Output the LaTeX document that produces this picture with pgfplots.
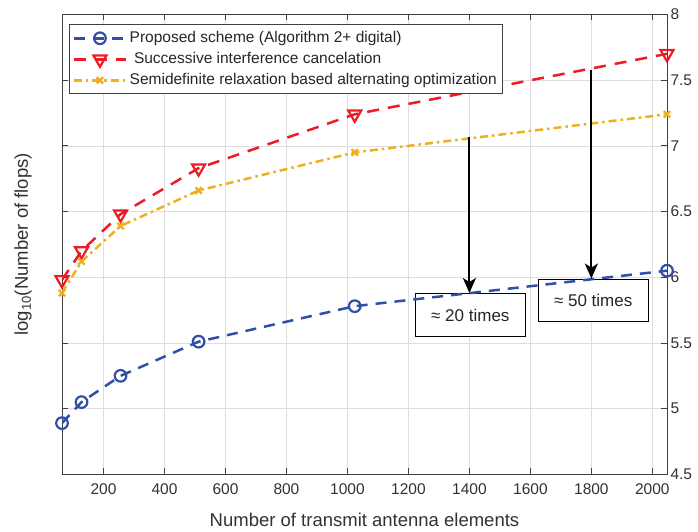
\documentclass[border=0pt]{standalone}
\usepackage{fontspec}
\setmainfont{Liberation Sans}
\usepackage{pgfplots}
\pgfplotsset{compat=1.18}
\usetikzlibrary{arrows.meta}

\definecolor{cblue}{RGB}{49,79,168}
\definecolor{cred}{RGB}{237,28,36}
\definecolor{cyellow}{RGB}{237,177,32}
\definecolor{axisgray}{RGB}{64,64,64}
\definecolor{labelgray}{RGB}{50,50,50}

\begin{document}
\begin{tikzpicture}
\begin{axis}[
  scale only axis,
  width=605pt, height=460pt,
  xmin=64, xmax=2048, ymin=4.5, ymax=8,
  xtick={200,400,...,2000},
  ytick={4.5,5,5.5,6,6.5,7,7.5,8},
  yticklabel pos=right,
  xtick pos=both, ytick pos=both,
  tick align=inside,
  major tick length=6pt,
  grid=major,
  grid style={draw=black!13, line width=0.6pt},
  axis line style={draw=axisgray, line width=0.8pt},
  tick style={draw=axisgray, line width=0.8pt},
  tick label style={font=\fontsize{15.5}{18}\selectfont, text=labelgray},
  xticklabel style={yshift=-6pt},
  /pgf/number format/assume math mode=true,
  /pgf/number format/1000 sep={},
  xlabel={Number of transmit antenna elements},
  ylabel={log\textsubscript{10}(Number of flops)},
  every axis y label/.style={at={(axis description cs:-0.0645,0.5)}, rotate=90, anchor=center,
    font=\fontsize{18.5}{22}\selectfont, text=labelgray},
  every axis x label/.style={at={(axis description cs:0.5,0)}, yshift=-45.6pt, anchor=center,
    font=\fontsize{18.5}{22}\selectfont, text=labelgray},
  legend style={
    at={(rel axis cs:0,1)}, xshift=7.3pt, yshift=-10pt, anchor=north west,
    draw=axisgray, line width=0.8pt, fill=white,
    font=\fontsize{15.5}{18}\selectfont, text=black!85,
    cells={anchor=west}, row sep=0pt,
    inner xsep=3pt, inner ysep=3pt,
    nodes={inner sep=2.5pt, text height=12pt, text depth=4pt},
  },
  legend image code/.code={
    \draw[mark repeat=2, mark phase=2] plot coordinates {(0pt,0pt) (26pt,0pt) (52pt,0pt)};
  },
]

% ratio annotations (boxes sit under the curves)
\node[draw=black, line width=1pt, fill=white, minimum width=110pt, minimum height=43pt,
      font=\fontsize{17}{20}\selectfont, text=black!85]
  at (axis cs:1403,5.71) {≈ 20 times};
\node[draw=black, line width=1pt, fill=white, minimum width=110pt, minimum height=42pt,
      font=\fontsize{17}{20}\selectfont, text=black!85]
  at (axis cs:1806,5.82) {≈ 50 times};

% proposed scheme
\addplot[color=cblue, line width=2.5pt, dash pattern=on 11pt off 8pt,
  mark=o, mark size=5.8pt, mark options={solid, line width=2.2pt, fill=none}]
  coordinates {(64,4.89) (128,5.05) (256,5.25) (512,5.51) (1024,5.78) (2048,6.05)};
\addlegendentry{Proposed scheme (Algorithm 2+ digital)}

% successive interference cancelation
\addplot[color=cred, line width=2.5pt, dash pattern=on 12pt off 9pt,
  mark=triangle, mark size=7.5pt, mark options={solid, rotate=180, line width=2.2pt, fill=none}]
  coordinates {(64,5.98) (128,6.20) (256,6.48) (512,6.83) (1024,7.24) (2048,7.70)};
\addlegendentry{\ Successive interference cancelation}

% semidefinite relaxation based alternating optimization
\addplot[color=cyellow, line width=2.5pt, dash pattern=on 8pt off 4pt on 2.5pt off 4pt,
  mark=x, mark size=4.5pt, mark options={solid, line width=2.4pt}]
  coordinates {(64,5.88) (128,6.12) (256,6.39) (512,6.66) (1024,6.95) (2048,7.24)};
\addlegendentry{Semidefinite relaxation based alternating optimization}

% complexity gap arrows
\addplot[black, line width=2pt, -{Stealth[length=15pt, width=13pt, inset=4pt]}, forget plot]
  coordinates {(1400,7.07) (1400,5.88)};
\addplot[black, line width=2pt, -{Stealth[length=15pt, width=13pt, inset=4pt]}, forget plot]
  coordinates {(1800,7.58) (1800,5.99)};

\end{axis}
\pgfresetboundingbox
\path[use as bounding box] (-62pt,-56.6pt) rectangle (636pt,474.4pt);
\end{tikzpicture}
\end{document}
